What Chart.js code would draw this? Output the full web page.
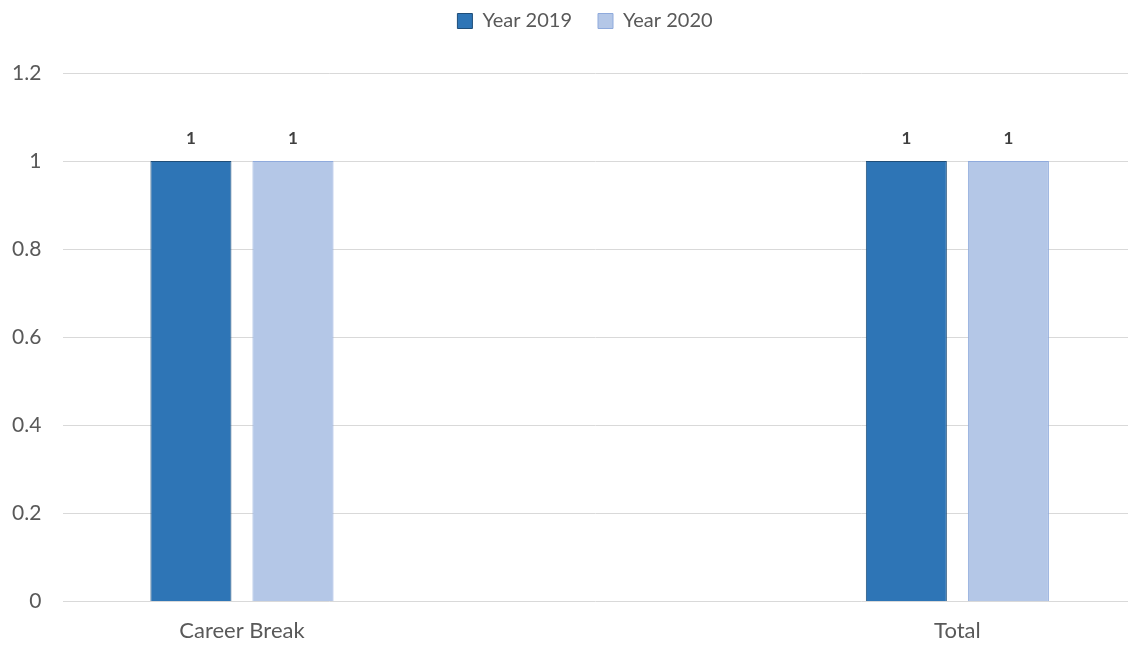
<!DOCTYPE html>
<html>
<head>
    <title>Career Break</title>
    <script src="https://cdn.jsdelivr.net/npm/chart.js@4.4.0/dist/chart.umd.min.js"></script>
    <style>
        body { margin: 0; background: #fff; }
    </style>
</head>
<body>
    <canvas id="barChart" width="1128" height="646"></canvas>

    <script>
        // chart data
        var categories = ['Career Break', 'Total'];
        var year2019 = [1, 1];
        var year2020 = [1, 1];
        var yTicks = [0, 0.2, 0.4, 0.6, 0.8, 1, 1.2];

        // bars sit on a linear x scale so the two groups can keep their offsets
        function toPoints(values) {
            return values.map(function (v, i) { return { x: i, y: v }; });
        }

        // draws the bold value above each bar
        var valueLabels = {
            id: 'valueLabels',
            afterDatasetsDraw: function (chart) {
                var ctx = chart.ctx;
                ctx.save();
                ctx.font = 'bold 17px Lato';
                ctx.fillStyle = '#404040';
                ctx.textAlign = 'center';
                ctx.textBaseline = 'middle';
                chart.data.datasets.forEach(function (ds, di) {
                    chart.getDatasetMeta(di).data.forEach(function (bar, i) {
                        ctx.fillText(String(ds.data[i].y), bar.x, bar.y - 23);
                    });
                });
                ctx.restore();
            }
        };

        // extra room under the legend, and nudge it right like the original
        var legendGap = {
            id: 'legendGap',
            beforeInit: function (chart) {
                var fit = chart.legend.fit;
                chart.legend.fit = function () {
                    fit.bind(chart.legend)();
                    this.height += 32;
                };
            },
            afterLayout: function (chart) {
                chart.legend.left += 26;
                chart.legend.right += 26;
            }
        };

        var ctx = document.getElementById('barChart').getContext('2d');
        var chart = new Chart(ctx, {
            type: 'bar',
            data: {
                datasets: [{
                    label: 'Year 2019',
                    data: toPoints(year2019),
                    backgroundColor: '#2E75B6',
                    borderColor: '#1F4E79',
                    borderWidth: 1,
                }, {
                    label: 'Year 2020',
                    data: toPoints(year2020),
                    backgroundColor: '#B4C7E7',
                    borderColor: '#8FAADC',
                    borderWidth: 1,
                }],
            },
            options: {
                responsive: false,
                animation: false,
                categoryPercentage: 0.2853,
                barPercentage: 0.794,
                layout: { padding: { left: -10, right: 0, top: -15, bottom: -14 } },
                plugins: {
                    legend: {
                        position: 'top',
                        labels: {
                            font: { family: 'Lato', size: 20 },
                            color: '#595959',
                            boxWidth: 15,
                            boxHeight: 15,
                            padding: 26,
                        },
                    },
                    tooltip: { enabled: false },
                },
                scales: {
                    x: {
                        type: 'linear',
                        offset: false,
                        min: -0.2497,
                        max: 1.2385,
                        afterBuildTicks: function (scale) {
                            scale.ticks = categories.map(function (c, i) { return { value: i }; });
                        },
                        grid: { display: false, drawTicks: false },
                        border: { display: false },
                        ticks: {
                            autoSkip: false,
                            maxRotation: 0,
                            padding: 16,
                            font: { family: 'Lato', size: 22 },
                            color: '#595959',
                            callback: function (value) { return categories[value]; },
                        },
                    },
                    y: {
                        min: 0,
                        max: 1.2,
                        afterBuildTicks: function (scale) {
                            scale.ticks = yTicks.map(function (v) { return { value: v }; });
                        },
                        grid: { color: '#D9D9D9', lineWidth: 1, drawTicks: false },
                        border: { display: false },
                        ticks: {
                            padding: 22,
                            font: { family: 'Lato', size: 21 },
                            color: '#595959',
                            callback: function (value) { return String(value); },
                        },
                    },
                },
            },
            plugins: [valueLabels, legendGap],
        });
    </script>
</body>
</html>
